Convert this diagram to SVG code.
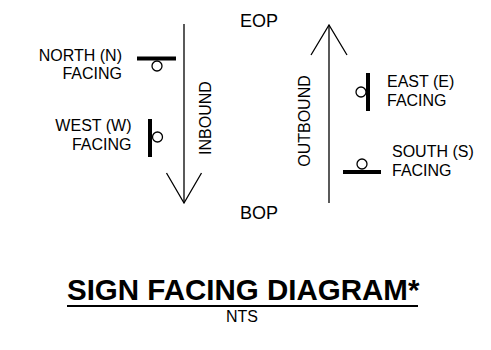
<svg xmlns="http://www.w3.org/2000/svg" width="491" height="350" viewBox="0 0 491 350">
<style>
text{font-family:"Liberation Sans",Arial,sans-serif;fill:#000}
.lbl{font-size:16px}
.end{text-anchor:end}
.bar{stroke:#000;stroke-width:4;fill:none}
.dot{stroke:#000;stroke-width:1.3;fill:#fff}
.ln{stroke:#000;stroke-width:1.3;fill:none}
</style>
<rect width="491" height="350" fill="#fff"/>
<g id="connectors">
<g id="inbound-arrow">
<line class="ln" x1="184" y1="24" x2="184" y2="203"/>
<polyline class="ln" points="166.5,173 184,203 201.5,173"/>
</g>
<g id="outbound-arrow">
<line class="ln" x1="329" y1="203" x2="329" y2="25"/>
<polyline class="ln" points="311,55 329,25 347,55"/>
</g>
</g>
<g id="north">
<line class="bar" x1="137" y1="58.5" x2="176" y2="58.5"/>
<circle class="dot" cx="157" cy="66" r="5"/>
<text class="lbl end" x="122" y="61">NORTH (N)</text>
<text class="lbl end" x="122" y="79">FACING</text>
</g>
<g id="west">
<line class="bar" x1="150" y1="119" x2="150" y2="157"/>
<circle class="dot" cx="157.5" cy="137" r="5"/>
<text class="lbl end" x="131.5" y="131">WEST (W)</text>
<text class="lbl end" x="131.5" y="150">FACING</text>
</g>
<g id="east">
<line class="bar" x1="368" y1="73" x2="368" y2="111"/>
<circle class="dot" cx="361" cy="92" r="5"/>
<text class="lbl" x="387" y="87">EAST (E)</text>
<text class="lbl" x="387" y="106">FACING</text>
</g>
<g id="south">
<line class="bar" x1="343" y1="172" x2="381" y2="172"/>
<circle class="dot" cx="362" cy="164" r="5"/>
<text class="lbl" x="392" y="157">SOUTH (S)</text>
<text class="lbl" x="392" y="176">FACING</text>
</g>
<g id="inbound-label">
<text class="lbl" text-anchor="middle" transform="translate(211,118) rotate(-90)">INBOUND</text>
</g>
<g id="outbound-label">
<text class="lbl" text-anchor="middle" transform="translate(310,121) rotate(-90)">OUTBOUND</text>
</g>
<g id="eop"><text x="240" y="27" style="font-size:18px">EOP</text></g>
<g id="bop"><text x="240" y="219" style="font-size:18px">BOP</text></g>
<g id="title">
<text x="67" y="300" style="font-size:29.5px;font-weight:bold">SIGN FACING DIAGRAM*</text>
<line x1="67" y1="306" x2="418" y2="306" stroke="#000" stroke-width="2"/>
<text x="242" y="322" text-anchor="middle" style="font-size:16px">NTS</text>
</g>
</svg>
